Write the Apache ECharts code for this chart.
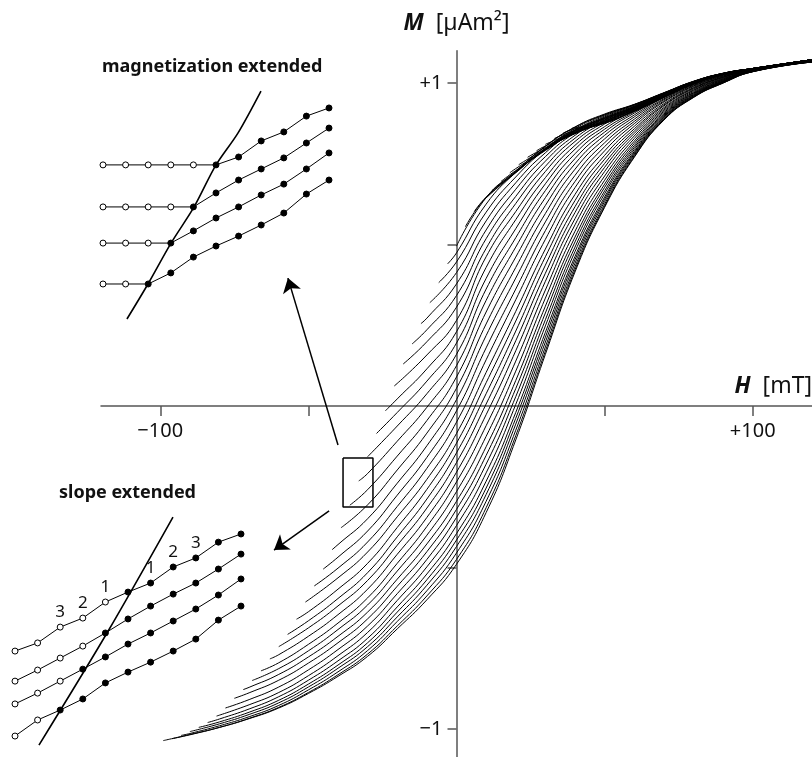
<!DOCTYPE html>
<html>
<head>
<meta charset="utf-8">
<script src="https://cdn.jsdelivr.net/npm/echarts@6/dist/echarts.min.js"></script>
<style>
  html, body { margin: 0; padding: 0; background: #fff; }
  #chart { width: 812px; height: 757px; }
</style>
</head>
<body>
<div id="chart"></div>
<script>
// field values (mT) at which every FORC is sampled after its reversal point
const fieldGrid = [-90, -80, -70, -60, -50, -40, -30, -20, -10, 0, 10, 20, 30, 40, 50, 60, 70, 80, 90, 100, 120];

// reversal fields Ha (mT) and the moment where each curve starts (µAm²)
const reversalFields = [-99, -96, -93, -90, -87, -84, -81, -78, -75, -72, -69, -66, -63, -60, -57, -54, -51, -48, -45, -42,
  -39, -36, -33, -30, -27, -24, -21, -18, -15, -12, -9, -6, -3, 0, 3, 6, 9, 12, 15, 18, 21, 24, 27, 30, 33, 36, 39];
const reversalMoments = [-1.036, -1.03, -1.02, -1.008, -0.995, -0.98, -0.96, -0.935, -0.905, -0.878, -0.85, -0.82, -0.783,
  -0.745, -0.707, -0.66, -0.607, -0.557, -0.505, -0.445, -0.377, -0.307, -0.232, -0.157, -0.085, -0.015, 0.062, 0.13,
  0.192, 0.255, 0.32, 0.382, 0.44, 0.495, 0.555, 0.602, 0.636, 0.667, 0.695, 0.722, 0.747, 0.77, 0.79, 0.81, 0.828, 0.845, 0.86];

// moments of each curve on the last n points of fieldGrid (aligned to the end)
const forcMoments = [
  [-1.017, -0.995, -0.968, -0.935, -0.89, -0.837, -0.775, -0.69, -0.6, -0.49, -0.33, -0.105, 0.16, 0.415, 0.615, 0.77, 0.885, 0.955, 1.0, 1.035, 1.065],
  [-1.018, -0.995, -0.967, -0.933, -0.887, -0.832, -0.768, -0.681, -0.588, -0.475, -0.315, -0.092, 0.17, 0.422, 0.619, 0.772, 0.886, 0.956, 1.0, 1.035, 1.065],
  [-1.014, -0.99, -0.962, -0.927, -0.879, -0.823, -0.757, -0.667, -0.572, -0.455, -0.295, -0.075, 0.183, 0.431, 0.625, 0.776, 0.888, 0.957, 1.001, 1.035, 1.065],
  [-0.984, -0.955, -0.919, -0.87, -0.812, -0.745, -0.653, -0.555, -0.435, -0.274, -0.056, 0.198, 0.442, 0.633, 0.78, 0.89, 0.958, 1.002, 1.036, 1.065],
  [-0.978, -0.948, -0.911, -0.861, -0.802, -0.733, -0.638, -0.538, -0.415, -0.254, -0.038, 0.213, 0.453, 0.64, 0.784, 0.893, 0.96, 1.003, 1.036, 1.066],
  [-0.969, -0.938, -0.9, -0.849, -0.789, -0.719, -0.622, -0.52, -0.395, -0.233, -0.02, 0.228, 0.463, 0.647, 0.788, 0.895, 0.961, 1.004, 1.036, 1.066],
  [-0.925, -0.887, -0.835, -0.773, -0.701, -0.602, -0.498, -0.37, -0.207, 0.005, 0.248, 0.478, 0.657, 0.794, 0.898, 0.963, 1.005, 1.037, 1.066],
  [-0.909, -0.87, -0.817, -0.754, -0.681, -0.581, -0.475, -0.345, -0.18, 0.029, 0.267, 0.492, 0.666, 0.8, 0.901, 0.965, 1.006, 1.037, 1.066],
  [-0.888, -0.849, -0.796, -0.733, -0.659, -0.558, -0.451, -0.32, -0.153, 0.054, 0.288, 0.508, 0.677, 0.806, 0.904, 0.967, 1.007, 1.038, 1.067],
  [-0.871, -0.831, -0.777, -0.713, -0.638, -0.536, -0.427, -0.295, -0.126, 0.079, 0.309, 0.523, 0.687, 0.813, 0.908, 0.969, 1.009, 1.038, 1.067],
  [-0.813, -0.758, -0.692, -0.616, -0.511, -0.4, -0.265, -0.094, 0.108, 0.334, 0.541, 0.699, 0.82, 0.912, 0.971, 1.01, 1.039, 1.067],
  [-0.795, -0.738, -0.672, -0.594, -0.487, -0.373, -0.235, -0.061, 0.139, 0.359, 0.561, 0.712, 0.828, 0.916, 0.974, 1.012, 1.039, 1.068],
  [-0.77, -0.713, -0.646, -0.567, -0.459, -0.345, -0.205, -0.027, 0.171, 0.386, 0.58, 0.726, 0.836, 0.92, 0.977, 1.013, 1.04, 1.068],
  [-0.687, -0.619, -0.54, -0.431, -0.316, -0.175, 0.006, 0.202, 0.411, 0.599, 0.739, 0.844, 0.924, 0.979, 1.015, 1.04, 1.069],
  [-0.665, -0.596, -0.516, -0.405, -0.288, -0.145, 0.038, 0.232, 0.436, 0.617, 0.751, 0.851, 0.929, 0.982, 1.017, 1.041, 1.069],
  [-0.637, -0.567, -0.487, -0.376, -0.258, -0.115, 0.072, 0.263, 0.462, 0.636, 0.764, 0.858, 0.932, 0.984, 1.018, 1.041, 1.069],
  [-0.532, -0.452, -0.343, -0.227, -0.085, 0.104, 0.293, 0.486, 0.655, 0.776, 0.866, 0.936, 0.986, 1.019, 1.042, 1.07],
  [-0.502, -0.421, -0.311, -0.193, -0.05, 0.143, 0.329, 0.516, 0.676, 0.79, 0.874, 0.941, 0.989, 1.021, 1.042, 1.07],
  [-0.468, -0.387, -0.276, -0.159, -0.015, 0.18, 0.362, 0.543, 0.695, 0.803, 0.881, 0.944, 0.991, 1.022, 1.043, 1.07],
  [-0.429, -0.349, -0.239, -0.123, 0.02, 0.218, 0.396, 0.57, 0.714, 0.815, 0.888, 0.948, 0.993, 1.024, 1.043, 1.071],
  [-0.306, -0.198, -0.084, 0.055, 0.254, 0.429, 0.596, 0.733, 0.827, 0.895, 0.951, 0.995, 1.025, 1.043, 1.071],
  [-0.259, -0.155, -0.045, 0.09, 0.291, 0.461, 0.621, 0.75, 0.838, 0.901, 0.955, 0.997, 1.026, 1.044, 1.071],
  [-0.209, -0.109, -0.004, 0.125, 0.327, 0.492, 0.645, 0.766, 0.848, 0.907, 0.957, 0.998, 1.027, 1.044, 1.071],
  [-0.062, 0.038, 0.16, 0.362, 0.521, 0.667, 0.781, 0.857, 0.911, 0.96, 1.0, 1.027, 1.044, 1.071],
  [-0.02, 0.077, 0.195, 0.395, 0.549, 0.688, 0.795, 0.865, 0.916, 0.962, 1.001, 1.028, 1.044, 1.071],
  [0.022, 0.115, 0.23, 0.429, 0.577, 0.707, 0.807, 0.873, 0.92, 0.964, 1.002, 1.028, 1.045, 1.072],
  [0.158, 0.265, 0.462, 0.602, 0.726, 0.819, 0.879, 0.923, 0.965, 1.003, 1.029, 1.045, 1.072],
  [0.199, 0.306, 0.488, 0.627, 0.742, 0.829, 0.885, 0.926, 0.966, 1.003, 1.029, 1.045, 1.072],
  [0.236, 0.342, 0.518, 0.649, 0.758, 0.838, 0.891, 0.928, 0.967, 1.004, 1.029, 1.045, 1.072],
  [0.272, 0.378, 0.545, 0.671, 0.772, 0.846, 0.895, 0.93, 0.968, 1.004, 1.03, 1.045, 1.072],
  [0.413, 0.573, 0.691, 0.784, 0.853, 0.898, 0.932, 0.969, 1.004, 1.03, 1.045, 1.072],
  [0.446, 0.6, 0.709, 0.795, 0.859, 0.901, 0.933, 0.969, 1.005, 1.03, 1.045, 1.072],
  [0.474, 0.625, 0.724, 0.804, 0.864, 0.904, 0.934, 0.97, 1.005, 1.03, 1.045, 1.072],
  [0.645, 0.727, 0.804, 0.863, 0.902, 0.933, 0.969, 1.005, 1.03, 1.045, 1.072],
  [0.646, 0.723, 0.798, 0.855, 0.893, 0.927, 0.965, 1.002, 1.029, 1.045, 1.072],
  [0.646, 0.722, 0.796, 0.853, 0.891, 0.925, 0.964, 1.002, 1.029, 1.044, 1.072],
  [0.724, 0.795, 0.852, 0.89, 0.924, 0.963, 1.001, 1.028, 1.044, 1.072],
  [0.726, 0.793, 0.85, 0.888, 0.923, 0.962, 1.001, 1.028, 1.044, 1.072],
  [0.729, 0.791, 0.848, 0.886, 0.922, 0.961, 1.0, 1.028, 1.044, 1.072],
  [0.735, 0.793, 0.846, 0.884, 0.92, 0.961, 1.0, 1.027, 1.044, 1.072],
  [0.796, 0.844, 0.882, 0.919, 0.96, 0.999, 1.027, 1.044, 1.072],
  [0.8, 0.843, 0.881, 0.918, 0.959, 0.999, 1.027, 1.044, 1.072],
  [0.805, 0.844, 0.879, 0.917, 0.958, 0.998, 1.027, 1.044, 1.072],
  [0.848, 0.877, 0.915, 0.957, 0.998, 1.027, 1.044, 1.072],
  [0.853, 0.875, 0.914, 0.957, 0.998, 1.027, 1.044, 1.072],
  [0.858, 0.876, 0.913, 0.956, 0.997, 1.026, 1.043, 1.072],
  [0.88, 0.912, 0.955, 0.997, 1.026, 1.043, 1.072]
];

// zoom box and the two arrows, in H / M units
const zoomBox = [[-38.3, -0.161], [-28.2, -0.161], [-28.2, -0.313], [-38.3, -0.313], [-38.3, -0.161]];
const arrowUp = [[-40.0, -0.121], [-56.9, 0.396]];
const arrowDown = [[-43.0, -0.325], [-61.6, -0.446]];

// inset "magnetization extended": rows of points, step index 0..10
const magRows = [
  [5.27, 5.27, 5.27, 5.27, 5.27, 5.27, 5.62, 6.33, 6.73, 7.43, 7.79],
  [3.41, 3.41, 3.41, 3.41, 3.41, 4.03, 4.60, 5.09, 5.58, 6.24, 6.90],
  [1.81, 1.81, 1.81, 1.81, 2.35, 2.92, 3.41, 3.94, 4.42, 5.09, 5.80],
  [0, 0, 0, 0.49, 1.19, 1.68, 2.12, 2.61, 3.14, 3.98, 4.60]
];
const magOpenCount = [5, 4, 3, 2];
const magBranch = [[1.06, -1.55], [1.99, 0], [3.01, 1.81], [4.03, 3.41], [5.0, 5.27], [5.97, 6.68], [6.99, 8.54]];

// inset "slope extended"
const slopeRows = [
  [3.76, 4.12, 4.82, 5.22, 5.93, 6.37, 6.77, 7.48, 7.88, 8.58, 8.94],
  [2.43, 2.92, 3.45, 3.98, 4.56, 5.18, 5.75, 6.28, 6.77, 7.39, 8.05],
  [1.42, 1.90, 2.43, 2.96, 3.50, 4.07, 4.56, 5.09, 5.62, 6.24, 6.95],
  [0, 0.71, 1.15, 1.64, 2.35, 2.83, 3.27, 3.76, 4.29, 5.13, 5.75]
];
const slopeOpenCount = [5, 4, 3, 2];
const slopeBranch = [[1.06, -0.40], [4.07, 4.56], [6.99, 9.69]];
const slopeLabelIndex = [2, 3, 4, 6, 7, 8];
const slopeLabelText = ['3', '2', '1', '1', '2', '3'];

const FONT = 'Noto Sans';
const AXIS_COLOR = '#555';

// main plot area: H from -120 to 120, M from -1.1 to 1.1
const PLOT = { left: 101, top: 50.7, width: 711, height: 710.6 };
const H_RANGE = [-120, 120];
const M_RANGE = [-1.1, 1.1];
// axes cross at the origin: shift them from the grid edges to zero
const xAxisShift = -PLOT.height * (0 - M_RANGE[0]) / (M_RANGE[1] - M_RANGE[0]);
const yAxisShift = -PLOT.width * (0 - H_RANGE[0]) / (H_RANGE[1] - H_RANGE[0]);

const forcSeries = reversalFields.map((ha, i) => {
  const row = forcMoments[i];
  const fields = fieldGrid.slice(fieldGrid.length - row.length);
  const pts = [[ha, reversalMoments[i]]].concat(row.map((m, j) => [fields[j], m]));
  return {
    type: 'line', xAxisIndex: 0, yAxisIndex: 0, data: pts,
    smooth: 0.5, symbol: 'none',
    lineStyle: { color: '#000', width: 1 }, silent: true, z: 3
  };
});

function insetRows(rows, openCount, gridIdx, labelIdx, labelText) {
  return rows.map((row, r) => ({
    type: 'line', xAxisIndex: gridIdx, yAxisIndex: gridIdx,
    symbol: 'circle', symbolSize: 6, showSymbol: true,
    lineStyle: { color: '#000', width: 1 },
    itemStyle: { color: '#000', borderColor: '#000', borderWidth: 1 },
    data: row.map((v, i) => {
      const item = { value: [i, v], itemStyle: { color: i < openCount[r] ? '#fff' : '#000' } };
      if (labelIdx && r === 0 && labelIdx.indexOf(i) >= 0) {
        item.label = {
          show: true, position: 'top', distance: 3,
          formatter: labelText[labelIdx.indexOf(i)],
          fontSize: 17, fontFamily: FONT, color: '#111'
        };
      }
      return item;
    }),
    z: 5
  }));
}

function branch(data, gridIdx) {
  return {
    type: 'line', xAxisIndex: gridIdx, yAxisIndex: gridIdx, data: data,
    smooth: 0.3, symbol: 'none', lineStyle: { color: '#000', width: 1.6 }, z: 4
  };
}

const signed = v => (v > 0 ? '+' : '\u2212') + Math.abs(v);

const option = {
  backgroundColor: '#fff',
  animation: false,
  title: [
    { text: 'magnetization extended', left: 97, top: 53,
      textStyle: { fontSize: 18, fontWeight: 'bold', fontFamily: FONT, color: '#111' } },
    { text: 'slope extended', left: 54, top: 479,
      textStyle: { fontSize: 18, fontWeight: 'bold', fontFamily: FONT, color: '#111' } }
  ],
  grid: [
    Object.assign({ containLabel: false, outerBoundsMode: 'none' }, PLOT),
    { left: 91.7, top: 87.4, width: 248.6, height: 235, containLabel: false, outerBoundsMode: 'none' },
    { left: 3.7, top: 512.3, width: 248.6, height: 237.3, containLabel: false, outerBoundsMode: 'none' }
  ],
  xAxis: [
    {
      gridIndex: 0, type: 'value', min: H_RANGE[0], max: H_RANGE[1],
      position: 'bottom', offset: xAxisShift,
      axisLine: { onZero: false, lineStyle: { color: AXIS_COLOR, width: 1.5 } },
      axisTick: { customValues: [-100, -50, 50, 100], length: 10, lineStyle: { color: AXIS_COLOR, width: 1.5 } },
      axisLabel: { customValues: [-100, 100], formatter: signed, margin: 15, fontSize: 20, fontFamily: FONT, color: '#111' },
      splitLine: { show: false },
      name: '{i|H}  [mT]', nameLocation: 'end', nameGap: 0,
      nameTextStyle: {
        fontSize: 23, fontFamily: FONT, color: '#111', align: 'right', verticalAlign: 'bottom',
        padding: [0, 0, 8, 0],
        rich: { i: { fontSize: 23, fontStyle: 'italic', fontWeight: 'bold', fontFamily: FONT, color: '#111' } }
      }
    },
    { gridIndex: 1, type: 'value', min: -0.5, max: 10.5, show: false },
    { gridIndex: 2, type: 'value', min: -0.5, max: 10.5, show: false }
  ],
  yAxis: [
    {
      gridIndex: 0, type: 'value', min: M_RANGE[0], max: M_RANGE[1],
      position: 'left', offset: yAxisShift,
      axisLine: { onZero: false, lineStyle: { color: AXIS_COLOR, width: 1.5 } },
      axisTick: { customValues: [-1, -0.5, 0.5, 1], length: 9, lineStyle: { color: AXIS_COLOR, width: 1.5 } },
      axisLabel: { customValues: [-1, 1], formatter: signed, margin: 14, fontSize: 20, fontFamily: FONT, color: '#111' },
      splitLine: { show: false },
      name: '{i|M}  [\u00b5Am\u00b2]', nameLocation: 'end', nameGap: 16,
      nameTextStyle: {
        fontSize: 23, fontFamily: FONT, color: '#111',
        rich: { i: { fontSize: 23, fontStyle: 'italic', fontWeight: 'bold', fontFamily: FONT, color: '#111' } }
      }
    },
    { gridIndex: 1, type: 'value', min: -1.7, max: 8.7, show: false },
    { gridIndex: 2, type: 'value', min: -0.6, max: 9.9, show: false }
  ],
  series: [
    ...forcSeries,
    {
      type: 'line', xAxisIndex: 0, yAxisIndex: 0, data: zoomBox, symbol: 'none',
      lineStyle: { color: '#000', width: 1.5 }, z: 6
    },
    {
      type: 'lines', coordinateSystem: 'cartesian2d', xAxisIndex: 0, yAxisIndex: 0,
      symbol: ['none', 'arrow'], symbolSize: 14,
      lineStyle: { color: '#000', width: 1.5, opacity: 1 },
      itemStyle: { color: '#000' },
      data: [{ coords: arrowUp }, { coords: arrowDown }], z: 6
    },
    branch(magBranch, 1),
    ...insetRows(magRows, magOpenCount, 1),
    branch(slopeBranch, 2),
    ...insetRows(slopeRows, slopeOpenCount, 2, slopeLabelIndex, slopeLabelText)
  ]
};

const chart = echarts.init(document.getElementById('chart'), null, { renderer: 'canvas' });
chart.setOption(option);
</script>
</body>
</html>
